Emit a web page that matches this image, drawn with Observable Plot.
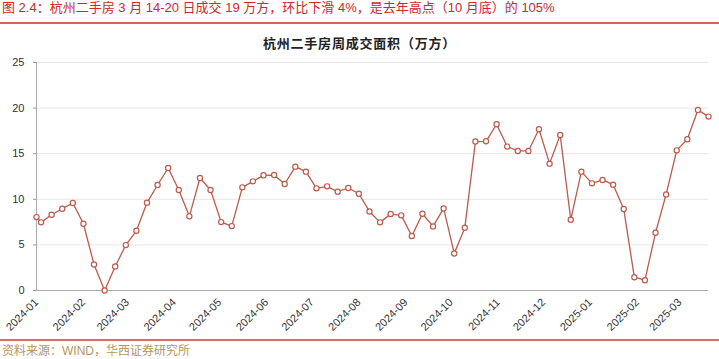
<!DOCTYPE html>
<html><head><meta charset="utf-8">
<script src="https://cdn.jsdelivr.net/npm/d3@7"></script>
<script src="https://cdn.jsdelivr.net/npm/@observablehq/plot@0.6"></script>
<style>
body{margin:0;width:719px;height:359px;overflow:hidden;background:#fff;position:relative;font-family:"Liberation Sans","Noto Sans CJK SC",sans-serif;}
.abs{position:absolute;white-space:nowrap;}
#title{top:0;left:2px;font-size:13px;line-height:16px;color:#d0262c;}
#rule1{top:22px;left:0;width:719px;height:2px;background:#d9605f;}
#sub{top:36px;left:0;width:719px;text-align:center;font-size:13px;letter-spacing:0.8px;line-height:16px;font-weight:bold;color:#222;}
#chart{top:52px;left:0;}
#rule2{top:339px;left:0;width:719px;height:2px;background:#dc6b6b;}
#src{top:344px;left:2px;font-size:12px;line-height:15px;color:#b8955e;}
</style></head>
<body>
<div id="title" class="abs">图 2.4：杭州二手房 3 月 14-20 日成交 19 万方，环比下滑 4%，是去年高点（10 月底）的 105%</div>
<div id="rule1" class="abs"></div>
<div id="sub" class="abs">杭州二手房周成交面积（万方）</div>
<div id="chart" class="abs"></div>
<div id="rule2" class="abs"></div>
<div id="src" class="abs">资料来源：WIND，华西证券研究所</div>
<script>
const dates = ["2024-01-01","2024-01-04","2024-01-11","2024-01-18","2024-01-25","2024-02-01","2024-02-08","2024-02-15","2024-02-22","2024-02-29",
"2024-03-07","2024-03-14","2024-03-21","2024-03-28","2024-04-04","2024-04-11","2024-04-18","2024-04-25","2024-05-02","2024-05-09",
"2024-05-16","2024-05-23","2024-05-30","2024-06-06","2024-06-13","2024-06-20","2024-06-27","2024-07-04","2024-07-11","2024-07-18",
"2024-07-25","2024-08-01","2024-08-08","2024-08-15","2024-08-22","2024-08-29","2024-09-05","2024-09-12","2024-09-19","2024-09-26",
"2024-10-03","2024-10-10","2024-10-17","2024-10-24","2024-10-31","2024-11-07","2024-11-14","2024-11-21","2024-11-28","2024-12-05",
"2024-12-12","2024-12-19","2024-12-26","2025-01-02","2025-01-09","2025-01-16","2025-01-23","2025-01-30","2025-02-06","2025-02-13",
"2025-02-20","2025-02-27","2025-03-06","2025-03-13","2025-03-20"];
const volumes = [8.05,7.47,8.31,8.97,9.59,7.32,2.85,0.0,2.64,4.98,
6.55,9.63,11.57,13.43,11.02,8.13,12.34,11.02,7.50,7.06,
11.31,11.97,12.63,12.66,11.68,13.58,13.03,11.20,11.42,10.83,
11.24,10.61,8.67,7.47,8.38,8.24,5.97,8.42,7.03,9.00,
4.06,6.88,16.33,16.36,18.23,15.78,15.30,15.30,17.68,13.91,
17.06,7.76,13.03,11.75,12.12,11.60,8.93,1.46,1.13,6.33,
10.54,15.37,16.58,19.80,19.07];
const monthTicks = ["2024-01","2024-02","2024-03","2024-04","2024-05","2024-06","2024-07","2024-08","2024-09","2024-10","2024-11","2024-12","2025-01","2025-02","2025-03"];
const yTicks = [0,5,10,15,20,25];

const parse = d3.utcParse("%Y-%m-%d");
const data = dates.map((d,i)=>({date: parse(d), value: volumes[i]}));
const tickDates = monthTicks.map(m => d3.utcParse("%Y-%m")(m));
const lineColor = "#bd5a4b";

const chart = Plot.plot({
  width: 719, height: 286,
  marginTop: 10, marginBottom: 48, marginLeft: 36, marginRight: 11,
  style: {fontFamily: "Liberation Sans, Arial, sans-serif", fontSize: "11px", color: "#333", background: "transparent"},
  x: {type: "utc", domain: [data[0].date, data[data.length-1].date]},
  y: {domain: [0, 25]},
  marks: [
    Plot.gridY(yTicks.filter(t=>t>0), {stroke: "#e6e6e6", strokeOpacity: 1}),
    Plot.axisY(yTicks, {tickSize: 3, tickPadding: 9, stroke: "#999", label: null}),
    Plot.axisX(tickDates, {tickFormat: d3.utcFormat("%Y-%m"), tickRotate: -45, tickSize: 0, tickPadding: 10, label: null}),
    Plot.ruleY([0], {stroke: "#aaa"}),
    Plot.ruleX([data[0].date], {stroke: "#aaa", y1: 0, y2: 25}),
    Plot.line(data, {x: "date", y: "value", stroke: lineColor, strokeWidth: 1.3}),
    Plot.dot(data, {x: "date", y: "value", r: 2.6, fill: "white", stroke: lineColor, strokeWidth: 1.2})
  ]
});
document.getElementById("chart").appendChild(chart);
</script>
</body></html>
